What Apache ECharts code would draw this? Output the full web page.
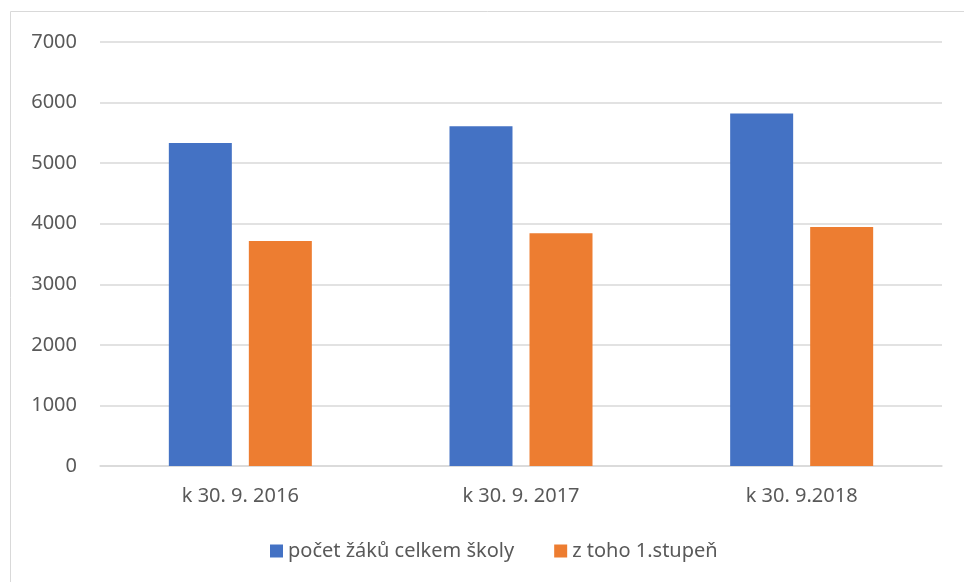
<!DOCTYPE html>
<html>
<head>
<meta charset="utf-8">
<script src="https://cdn.jsdelivr.net/npm/echarts@6/dist/echarts.min.js"></script>
<style>
  html, body { margin: 0; padding: 0; background: #fff; }
  #chart { width: 964px; height: 582px; }
</style>
</head>
<body>
<div id="chart"></div>
<script>
  // data
  var categories = ['k 30. 9. 2016', 'k 30. 9. 2017', 'k 30. 9.2018'];
  var seriesNames = ['počet žáků celkem školy', 'z toho 1.stupeň'];
  var totalPupils = [5333, 5608, 5818];
  var firstGrade = [3715, 3842, 3946];

  var textColor = '#595959';
  var fontFamily = 'Noto Sans, sans-serif';

  var chart = echarts.init(document.getElementById('chart'));
  chart.setOption({
    animation: false,
    textStyle: { fontFamily: fontFamily },
    graphic: [{
      type: 'rect',
      shape: { x: 10.5, y: 11.5, width: 960, height: 600 },
      style: { fill: 'none', stroke: '#d9d9d9', lineWidth: 1 }
    }],
    grid: { left: 100, right: 22, top: 42, bottom: 116 },
    legend: {
      data: seriesNames,
      left: 265,
      top: 536,
      itemWidth: 13,
      itemHeight: 13,
      itemGap: 40,
      icon: 'rect',
      textStyle: { color: textColor, fontSize: 20, fontFamily: fontFamily }
    },
    xAxis: {
      type: 'category',
      data: categories,
      axisLine: { lineStyle: { color: '#d9d9d9', width: 1.5 } },
      axisTick: { show: false },
      axisLabel: { color: textColor, fontSize: 20, margin: 20 }
    },
    yAxis: {
      type: 'value',
      min: 0,
      max: 7000,
      interval: 1000,
      axisLine: { show: false },
      axisTick: { show: false },
      axisLabel: {
        color: textColor,
        fontSize: 20,
        margin: 23,
        formatter: function (v) { return String(v); }
      },
      splitLine: { lineStyle: { color: '#d9d9d9', width: 1.5 } }
    },
    series: [
      {
        name: seriesNames[0],
        type: 'bar',
        data: totalPupils,
        barWidth: 63,
        barGap: '27%',
        itemStyle: { color: '#4472C4' }
      },
      {
        name: seriesNames[1],
        type: 'bar',
        data: firstGrade,
        barWidth: 63,
        itemStyle: { color: '#ED7D31' }
      }
    ]
  });
</script>
</body>
</html>
